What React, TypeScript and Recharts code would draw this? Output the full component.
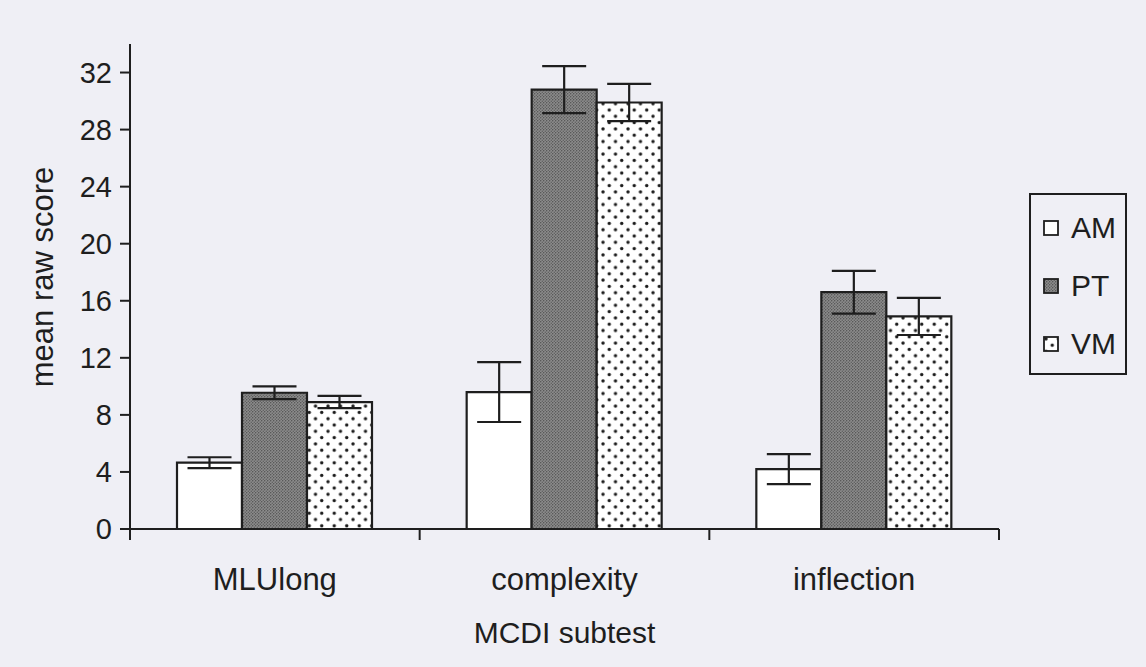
import { BarChart, Bar, XAxis, YAxis, ErrorBar } from "recharts";

const categories = ["MLUlong", "complexity", "inflection"];
const groups = ["AM", "PT", "VM"];
const amMean = [4.65, 9.6, 4.2];
const amErr = [0.38, 2.1, 1.05];
const ptMean = [9.55, 30.8, 16.6];
const ptErr = [0.45, 1.65, 1.5];
const vmMean = [8.9, 29.9, 14.9];
const vmErr = [0.43, 1.3, 1.3];
const yTicks = [0, 4, 8, 12, 16, 20, 24, 28, 32];

const data = categories.map((c, i) => ({
  name: c,
  AM: amMean[i],
  AMerr: amErr[i],
  PT: ptMean[i],
  PTerr: ptErr[i],
  VM: vmMean[i],
  VMerr: vmErr[i],
}));

const W = 1146;
const H = 667;
const BG = "#efeff5";
const INK = "#1e1e1e";
const FONT = "'Liberation Sans', Arial, Helvetica, sans-serif";
const margin = { top: 44, right: 147, bottom: 0, left: 50 };
const Y_AXIS_W = 80;
const X_AXIS_H = 138;
const PLOT_W = W - margin.left - margin.right - Y_AXIS_W;
const X_TICK_GAP = 39;

const fills: Record<string, string> = {
  AM: "#ffffff",
  PT: "url(#ptFill)",
  VM: "url(#vmFill)",
};

function Patterns({ suffix = "" }: { suffix?: string }) {
  return (
    <defs>
      <pattern id={"ptFill" + suffix} width="3" height="3" patternUnits="userSpaceOnUse">
        <rect width="3" height="3" fill="#8c8c8c" />
        <circle cx="0.75" cy="0.75" r="0.65" fill="#474747" />
        <circle cx="2.25" cy="2.25" r="0.65" fill="#555" />
      </pattern>
      <pattern id={"vmFill" + suffix} width="12.5" height="12.6" patternUnits="userSpaceOnUse">
        <rect width="12.5" height="12.6" fill="#ffffff" />
        <circle cx="3" cy="3" r="1.7" fill="#1a1a1a" />
        <circle cx="9.25" cy="9.3" r="1.7" fill="#1a1a1a" />
      </pattern>
    </defs>
  );
}

// category label plus the boundary ticks between groups
function CategoryTick(props: any) {
  const { x, y, payload, index } = props;
  const band = PLOT_W / categories.length;
  const axisY = y - X_TICK_GAP;
  return (
    <g>
      {index === 0 && (
        <line x1={x - band / 2} x2={x - band / 2} y1={axisY} y2={axisY + 11} stroke={INK} strokeWidth={2} />
      )}
      <line x1={x + band / 2} x2={x + band / 2} y1={axisY} y2={axisY + 11} stroke={INK} strokeWidth={2} />
      <text x={x} y={y} dy="0.71em" textAnchor="middle" fill={INK} fontSize={31} fontFamily={FONT}>
        {payload.value}
      </text>
    </g>
  );
}

function YTitle() {
  return (
    <text x={53} y={277} transform="rotate(-90 53 277)" textAnchor="middle" fill={INK} fontSize={31} fontFamily={FONT}>
      mean raw score
    </text>
  );
}

function XTitle(props: any) {
  const vb = props.viewBox || { x: 130, width: PLOT_W };
  return (
    <text x={vb.x + vb.width / 2} y={643} textAnchor="middle" fill={INK} fontSize={30} fontFamily={FONT}>
      MCDI subtest
    </text>
  );
}

function LegendBox() {
  return (
    <div
      style={{
        position: "absolute",
        left: 1029,
        top: 193,
        width: 94,
        height: 178,
        border: `2px solid ${INK}`,
        fontFamily: FONT,
        fontSize: 30,
        color: INK,
      }}
    >
      {groups.map((g, i) => (
        <div
          key={g}
          style={{ position: "absolute", left: 12, top: 16 + i * 58, display: "flex", alignItems: "center", height: 34 }}
        >
          <svg width={16} height={16} style={{ marginRight: 12 }}>
            <Patterns suffix="L" />
            <rect x={1} y={1} width={14} height={14} fill={fills[g].replace(")", "L)")} stroke={INK} strokeWidth={1.8} />
          </svg>
          <span>{g}</span>
        </div>
      ))}
    </div>
  );
}

export default function App() {
  return (
    <div style={{ position: "absolute", left: 0, top: 0, width: W, height: H, background: BG }}>
      <BarChart width={W} height={H} data={data} margin={margin} barGap={0} barSize={65}>
        <Patterns />
        <XAxis
          dataKey="name"
          height={X_AXIS_H}
          tickLine={false}
          tickSize={0}
          tickMargin={X_TICK_GAP}
          tick={<CategoryTick />}
          axisLine={{ stroke: INK, strokeWidth: 2 }}
          interval={0}
          label={<XTitle />}
        />
        <YAxis
          width={Y_AXIS_W}
          domain={[0, 34]}
          ticks={yTicks}
          allowDataOverflow
          tickSize={10}
          tickMargin={8}
          tickLine={{ stroke: INK, strokeWidth: 2 }}
          axisLine={{ stroke: INK, strokeWidth: 2 }}
          tick={{ fill: INK, fontSize: 29, fontFamily: FONT }}
          label={<YTitle />}
        />
        {groups.map((g) => (
          <Bar key={g} dataKey={g} fill={fills[g]} stroke={INK} strokeWidth={2.2} isAnimationActive={false}>
            <ErrorBar dataKey={g + "err"} width={22} stroke={INK} strokeWidth={2.2} />
          </Bar>
        ))}
      </BarChart>
      <LegendBox />
    </div>
  );
}
